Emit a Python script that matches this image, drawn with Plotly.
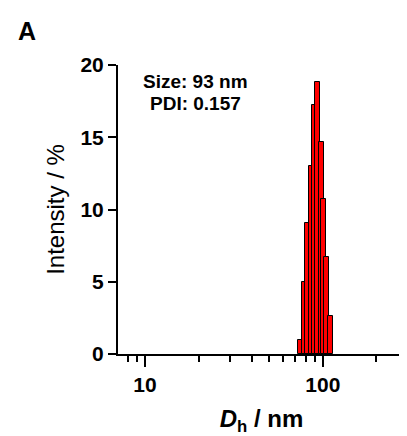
import numpy as np
import plotly.graph_objects as go

# Data
diameters_nm = [75.3, 79.3, 82.4, 86.2, 89.6, 93.8, 98.1, 101.4, 105.5, 110.2]
intensity_pct = [1.0, 5.0, 9.1, 13.0, 17.2, 18.8, 14.7, 10.7, 6.7, 2.6]
x_major_ticks = [10, 100]
x_major_labels = ["10", "100"]
x_minor_ticks = [8, 9, 20, 30, 40, 50, 60, 70, 80, 90, 200]
y_ticks = [0, 5, 10, 15, 20]
size_label = "Size: 93 nm"
pdi_label = "PDI: 0.157"

FONT = "Liberation Sans, Arial, sans-serif"

# bar width: constant width on the log scale (~0.028 decade)
half = 0.014
d = np.array(diameters_nm)
widths = d * (10 ** half - 10 ** (-half))

fig = go.Figure()
fig.add_trace(go.Bar(
    x=diameters_nm, y=intensity_pct, width=widths,
    marker=dict(color="#FF0000", line=dict(color="black", width=1)),
    showlegend=False,
))

# page body has an 8px default margin, so the figure is drawn at (8, 8)
fig.update_layout(
    width=399, height=428,
    margin=dict(l=110, r=2, t=57, b=82),
    paper_bgcolor="white", plot_bgcolor="white",
    font=dict(family=FONT, color="black"),
    bargap=0,
)

fig.update_xaxes(
    type="log", range=[np.log10(7.05), np.log10(290)],
    automargin=False,
    showline=True, linewidth=2, linecolor="black", mirror=False,
    showgrid=False, zeroline=False,
    ticks="outside", ticklen=11, tickwidth=2, tickcolor="black",
    tickmode="array", tickvals=x_major_ticks, ticktext=x_major_labels,
    tickfont=dict(size=21, weight="bold", family=FONT),
    minor=dict(tickmode="array", tickvals=x_minor_ticks, ticks="outside",
               ticklen=6, tickwidth=2, tickcolor="black", showgrid=False),
    title=dict(text="<i>D</i><sub>h</sub> / nm",
               font=dict(size=24, weight="bold", family=FONT), standoff=17),
)

fig.update_yaxes(
    range=[0, 20],
    automargin=False,
    showline=True, linewidth=2, linecolor="black",
    showgrid=False, zeroline=False,
    ticks="outside", ticklen=8, tickwidth=2, tickcolor="black",
    tickmode="array", tickvals=y_ticks,
    tickfont=dict(size=21, weight="bold", family=FONT),
    title=dict(text="Intensity / %", font=dict(size=24, family=FONT), standoff=9),
)

fig.add_annotation(
    xref="paper", yref="paper", x=0.27, y=0.942,
    text=size_label, showarrow=False,
    font=dict(size=19, weight="bold", family=FONT),
    xanchor="center", yanchor="middle",
)
fig.add_annotation(
    xref="paper", yref="paper", x=0.27, y=0.867,
    text=pdi_label, showarrow=False,
    font=dict(size=19, weight="bold", family=FONT),
    xanchor="center", yanchor="middle",
)
fig.add_annotation(
    xref="paper", yref="paper", x=-0.317, y=1.118,
    text="A", showarrow=False,
    font=dict(size=25, weight="bold", family=FONT),
    xanchor="center", yanchor="middle",
)

fig.write_html("out.html")
